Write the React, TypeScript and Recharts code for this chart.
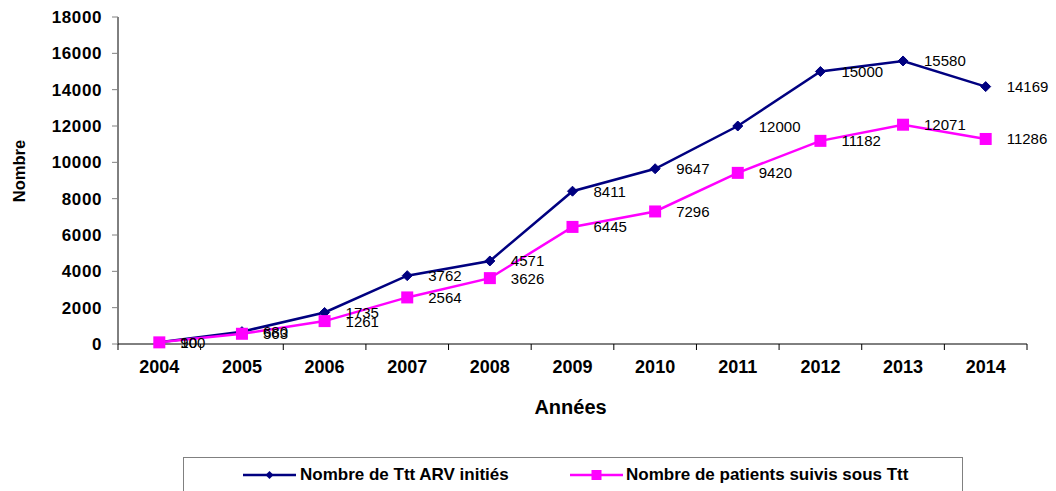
import React from 'react';
import { LineChart, Line, XAxis, YAxis, Legend, LabelList } from 'recharts';

const years = ['2004', '2005', '2006', '2007', '2008', '2009', '2010', '2011', '2012', '2013', '2014'];
const arvInitiated = [100, 680, 1735, 3762, 4571, 8411, 9647, 12000, 15000, 15580, 14169];
const patientsFollowed = [90, 563, 1261, 2564, 3626, 6445, 7296, 9420, 11182, 12071, 11286];
const yTicks = [0, 2000, 4000, 6000, 8000, 10000, 12000, 14000, 16000, 18000];

const seriesNames = {
  arv: 'Nombre de Ttt ARV initiés',
  patients: 'Nombre de patients suivis sous Ttt',
};

const data = years.map((y, i) => ({ year: y, arv: arvInitiated[i], patients: patientsFollowed[i] }));

const NAVY = '#000080';
const PINK = '#FF00FF';
const FONT = '"Liberation Sans", Arial, sans-serif';

const XTick = (props: any) => {
  const { x, y, payload, index, visibleTicksCount } = props;
  const off = payload && payload.offset != null ? payload.offset : 41;
  const isLast = index === visibleTicksCount - 1;
  return (
    <g>
      <line x1={x - off} x2={x - off} y1={y - 6} y2={y} stroke="#000" strokeWidth={1} />
      {isLast && <line x1={x + off} x2={x + off} y1={y - 6} y2={y} stroke="#000" strokeWidth={1} />}
      <text x={x} y={y + 23} textAnchor="middle" fontFamily={FONT} fontWeight="bold" fontSize={18} fill="#000">
        {payload.value}
      </text>
    </g>
  );
};

const DiamondDot = (props: any) => {
  const { cx, cy, index } = props;
  if (cx == null || cy == null) return <g key={`d${index}`} />;
  const r = 5;
  return (
    <path
      key={`d${index}`}
      d={`M${cx},${cy - r} L${cx + r},${cy} L${cx},${cy + r} L${cx - r},${cy} Z`}
      fill={NAVY}
      stroke={NAVY}
    />
  );
};

const SquareDot = (props: any) => {
  const { cx, cy, index } = props;
  if (cx == null || cy == null) return <g key={`s${index}`} />;
  const s = 12;
  return <rect key={`s${index}`} x={cx - s / 2} y={cy - s / 2} width={s} height={s} fill={PINK} />;
};

const renderValue = (props: any) => {
  const { x, y, value } = props;
  return (
    <text x={x + 21} y={y + 5.5} fontFamily={FONT} fontSize={15} fill="#000">
      {value}
    </text>
  );
};

const LegendContent = () => (
  <div
    style={{
      position: 'relative',
      height: 34,
      boxSizing: 'border-box',
      borderTop: '1px solid #808080',
      borderLeft: '1px solid #808080',
      borderRight: '1px solid #808080',
      fontFamily: FONT,
      fontWeight: 'bold',
      fontSize: 17,
      color: '#000',
    }}
  >
    <div style={{ position: 'absolute', left: 59, top: 0, height: 33, display: 'flex', alignItems: 'center' }}>
      <svg width={53} height={12} style={{ display: 'block' }}>
        <line x1={0} x2={53} y1={6} y2={6} stroke={NAVY} strokeWidth={2.5} />
        <path d="M26.5,2 L30.5,6 L26.5,10 L22.5,6 Z" fill={NAVY} />
      </svg>
      <span style={{ marginLeft: 4, whiteSpace: 'nowrap' }}>{seriesNames.arv}</span>
    </div>
    <div style={{ position: 'absolute', left: 386, top: 0, height: 33, display: 'flex', alignItems: 'center' }}>
      <svg width={53} height={12} style={{ display: 'block' }}>
        <line x1={0} x2={53} y1={6} y2={6} stroke={PINK} strokeWidth={2.5} />
        <rect x={21.5} y={1} width={10} height={10} fill={PINK} />
      </svg>
      <span style={{ marginLeft: 3, whiteSpace: 'nowrap' }}>{seriesNames.patients}</span>
    </div>
  </div>
);

export default function App() {
  return (
    <div style={{ position: 'absolute', left: 0, top: 0, width: 1056, height: 491, background: '#fff' }}>
      <LineChart width={1056} height={491} data={data} margin={{ top: 17, right: 29, bottom: 0, left: 0 }}>
        <XAxis
          dataKey="year"
          scale="band"
          height={113}
          axisLine={{ stroke: '#000', strokeWidth: 1 }}
          tickLine={false}
          tickSize={6}
          tickMargin={0}
          tick={<XTick />}
          interval={0}
          label={{
            content: (p: any) => {
              const vb = p.viewBox;
              return (
                <text
                  x={vb.x + vb.width / 2 - 2}
                  y={414}
                  textAnchor="middle"
                  fontFamily={FONT}
                  fontWeight="bold"
                  fontSize={20}
                  fill="#000"
                >
                  Années
                </text>
              );
            },
          }}
        />
        <YAxis
          width={118}
          domain={[0, 18000]}
          ticks={yTicks}
          interval={0}
          axisLine={{ stroke: '#000', strokeWidth: 1 }}
          tickLine={{ stroke: '#808080' }}
          tickSize={6}
          tickMargin={10}
          tick={{ fontFamily: FONT, fontWeight: 'bold', fontSize: 17, fill: '#000', letterSpacing: 0.6 }}
          label={{
            content: () => {
              const cy = 171;
              return (
                <text
                  x={19}
                  y={cy}
                  transform={`rotate(-90, 19, ${cy})`}
                  textAnchor="middle"
                  dominantBaseline="central"
                  fontFamily={FONT}
                  fontWeight="bold"
                  fontSize={16.5}
                  fill="#000"
                >
                  Nombre
                </text>
              );
            },
          }}
        />
        <Legend
          verticalAlign="bottom"
          content={<LegendContent />}
          wrapperStyle={{ left: 183, width: 780, bottom: 0, height: 34 }}
        />
        <Line
          type="linear"
          dataKey="arv"
          name={seriesNames.arv}
          stroke={NAVY}
          strokeWidth={2.5}
          dot={DiamondDot}
          activeDot={false}
          isAnimationActive={false}
        >
          <LabelList dataKey="arv" content={renderValue} />
        </Line>
        <Line
          type="linear"
          dataKey="patients"
          name={seriesNames.patients}
          stroke={PINK}
          strokeWidth={2.5}
          dot={SquareDot}
          activeDot={false}
          isAnimationActive={false}
        >
          <LabelList dataKey="patients" content={renderValue} />
        </Line>
      </LineChart>
    </div>
  );
}
